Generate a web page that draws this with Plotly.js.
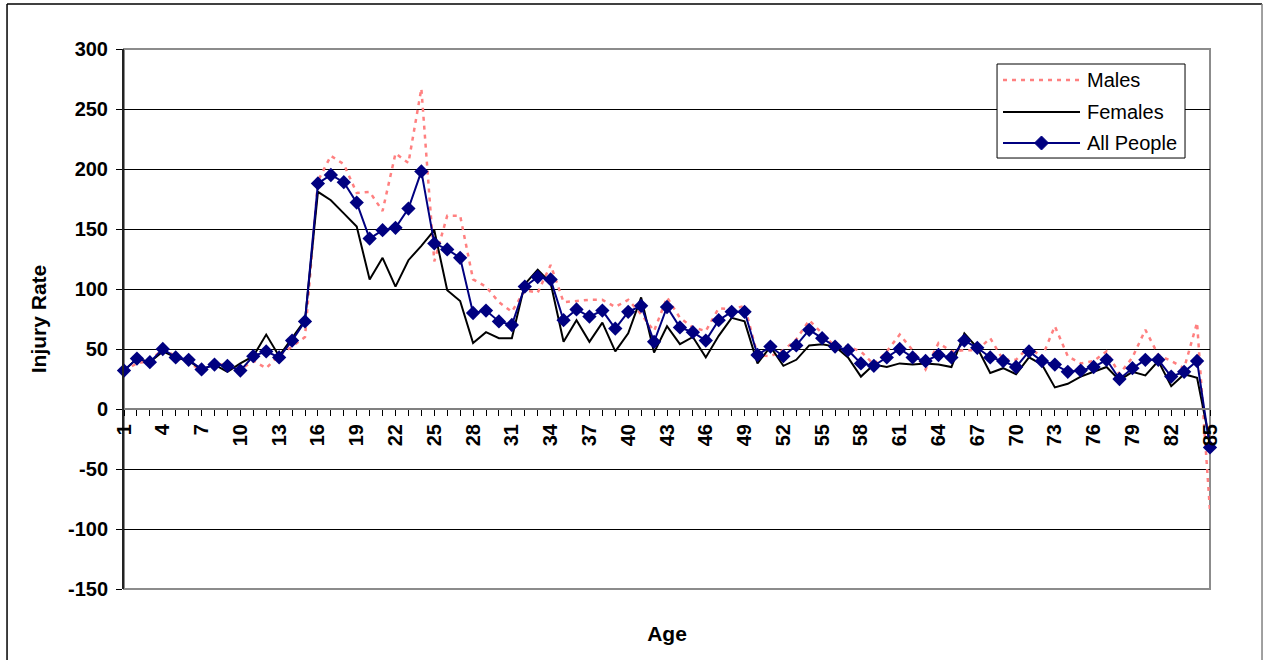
<!DOCTYPE html>
<html><head><meta charset="utf-8">
<script src="https://cdn.plot.ly/plotly-3.0.1.min.js"></script>
<style>html,body{margin:0;padding:0;background:#fff}#chart{width:1264px;height:660px}</style>
</head><body><div id="chart"></div>
<script>
const ages = [1,2,3,4,5,6,7,8,9,10,11,12,13,14,15,16,17,18,19,20,21,22,23,24,25,26,27,28,29,30,31,32,33,34,35,36,37,38,39,40,41,42,43,44,45,46,47,48,49,50,51,52,53,54,55,56,57,58,59,60,61,62,63,64,65,66,67,68,69,70,71,72,73,74,75,76,77,78,79,80,81,82,83,84,85];

const males = [32,38,40,50,44,38,33,37,37,33,40,34,45,52,60,190,211,204,180,181,165,213,205,267,123,161,161,108,102,89,81,99,97,120,89,90,91,91,85,91,79,65,93,76,68,65,84,83,86,45,44,49,58,74,63,52,52,48,37,48,62,49,33,55,48,49,49,59,41,41,52,43,69,44,38,40,48,29,43,66,45,40,34,72,-85];

const females = [32,42,39,48,43,40,33,37,31,38,44,62,44,59,74,181,174,163,152,108,126,102,124,136,149,99,90,55,64,59,59,104,116,105,56,74,56,72,48,63,93,47,69,54,60,43,61,76,73,38,52,36,41,53,54,52,43,27,37,35,38,37,38,37,35,63,51,30,34,29,43,37,18,21,27,31,35,24,31,28,40,19,29,26,-28];

const allPeople = [32,42,39,50,43,41,33,37,36,32,44,48,43,57,73,188,195,189,172,142,149,151,167,198,138,133,126,80,82,73,70,102,110,108,74,83,77,82,67,81,86,56,85,68,64,57,74,81,81,45,52,44,53,66,59,52,49,38,36,43,50,43,40,45,43,57,51,43,40,35,48,40,37,31,32,35,41,25,34,41,41,27,31,40,-32];

const seriesNames = ['Males','Females','All People'];
const yTickVals = [-150,-100,-50,0,50,100,150,200,250,300];
const yTickText = ['-150','-100','-50','0','50','100','150','200','250','300'];

const FONT = 'Arial, "Liberation Sans", sans-serif';
const COLORS = ['#FF8080', '#000000', '#000080'];

const traces = [
  {x: ages, y: males, name: seriesNames[0], type: 'scatter', mode: 'lines',
   line: {color: COLORS[0], width: 2.5, dash: '4px,5px'}, cliponaxis: false, showlegend: false},
  {x: ages, y: females, name: seriesNames[1], type: 'scatter', mode: 'lines',
   line: {color: COLORS[1], width: 2}, cliponaxis: false, showlegend: false},
  {x: ages, y: allPeople, name: seriesNames[2], type: 'scatter', mode: 'lines+markers',
   line: {color: COLORS[2], width: 2}, marker: {symbol: 'diamond', size: 11, color: COLORS[2]},
   cliponaxis: false, showlegend: false}
];

// legend box geometry (paper coordinates)
const LG = {x0: 0.8039, x1: 0.9770, y0: 0.7981, y1: 0.9722, sx0: 0.8094, sx1: 0.8803, tx: 0.8849,
            rows: [0.9426, 0.8833, 0.8259]};
const dx = 7/1086, dy = 7/540, cx = (LG.sx0 + LG.sx1)/2;

const legendShapes = [
  {type: 'rect', xref: 'paper', yref: 'paper', x0: LG.x0, x1: LG.x1, y0: LG.y0, y1: LG.y1,
   line: {color: '#000', width: 1}, fillcolor: '#fff', layer: 'above'},
  {type: 'line', xref: 'paper', yref: 'paper', x0: LG.sx0, x1: LG.sx1, y0: LG.rows[0], y1: LG.rows[0],
   line: {color: COLORS[0], width: 2.5, dash: '4px,5px'}},
  {type: 'line', xref: 'paper', yref: 'paper', x0: LG.sx0, x1: LG.sx1, y0: LG.rows[1], y1: LG.rows[1],
   line: {color: COLORS[1], width: 2}},
  {type: 'line', xref: 'paper', yref: 'paper', x0: LG.sx0, x1: LG.sx1, y0: LG.rows[2], y1: LG.rows[2],
   line: {color: COLORS[2], width: 2}},
  {type: 'path', xref: 'paper', yref: 'paper',
   path: `M ${cx} ${LG.rows[2]+dy} L ${cx+dx} ${LG.rows[2]} L ${cx} ${LG.rows[2]-dy} L ${cx-dx} ${LG.rows[2]} Z`,
   fillcolor: COLORS[2], line: {color: COLORS[2], width: 1}}
];

const legendAnnotations = seriesNames.map((n, i) => ({
  xref: 'paper', yref: 'paper', x: LG.tx, y: LG.rows[i], xanchor: 'left', yanchor: 'middle',
  text: n, showarrow: false, font: {family: FONT, size: 20, color: '#000'}
}));

const layout = {
  width: 1264, height: 660,
  margin: {l: 124, r: 54, t: 49, b: 71},
  paper_bgcolor: '#ffffff', plot_bgcolor: '#ffffff',
  font: {family: FONT, color: '#000'},
  showlegend: false,
  xaxis: {
    type: 'linear', range: [1, 85],
    anchor: 'free', position: 150/450,
    tick0: 1, dtick: 3, ticks: 'outside', ticklen: 6, tickcolor: '#000', tickwidth: 1,
    minor: {tick0: 1, dtick: 1, ticks: 'outside', ticklen: 6, tickcolor: '#000', tickwidth: 1, showgrid: false},
    tickangle: -90,
    tickfont: {family: FONT, size: 20, color: '#000', weight: 700},
    showgrid: false, zeroline: false,
    showline: true, linecolor: '#808080', linewidth: 2,
    title: {text: 'Age', font: {family: FONT, size: 21, color: '#000', weight: 700}, standoff: 180}
  },
  yaxis: {
    range: [-150, 300], tickmode: 'array', tickvals: yTickVals, ticktext: yTickText,
    ticks: 'outside', ticklen: 6, tickcolor: '#000', tickwidth: 1,
    tickfont: {family: FONT, size: 20, color: '#000', weight: 700},
    ticklabelstandoff: 4,
    showgrid: true, gridcolor: '#000', gridwidth: 1,
    zeroline: false,
    showline: true, linecolor: '#222', linewidth: 2,
    title: {text: 'Injury Rate', font: {family: FONT, size: 21, color: '#000', weight: 700}, standoff: 16}
  },
  annotations: legendAnnotations,
  shapes: [
    {type: 'rect', xref: 'paper', yref: 'paper', x0: 0, x1: 1, y0: 0, y1: 1,
     line: {color: '#8c8c8c', width: 2}, layer: 'below'},
    {type: 'line', xref: 'paper', yref: 'paper', x0: -0.1077, x1: 1.0479, y0: 1.0833, y1: 1.0833,
     line: {color: '#000', width: 1.5}},
    {type: 'line', xref: 'paper', yref: 'paper', x0: -0.1077, x1: -0.1077, y0: -0.15, y1: 1.0833,
     line: {color: '#000', width: 1.5}},
    {type: 'line', xref: 'paper', yref: 'paper', x0: 1.0479, x1: 1.0479, y0: -0.15, y1: 1.0833,
     line: {color: '#808080', width: 1.5}}
  ].concat(legendShapes)
};

Plotly.newPlot('chart', traces, layout, {staticPlot: true, displayModeBar: false});
</script>
</body></html>
